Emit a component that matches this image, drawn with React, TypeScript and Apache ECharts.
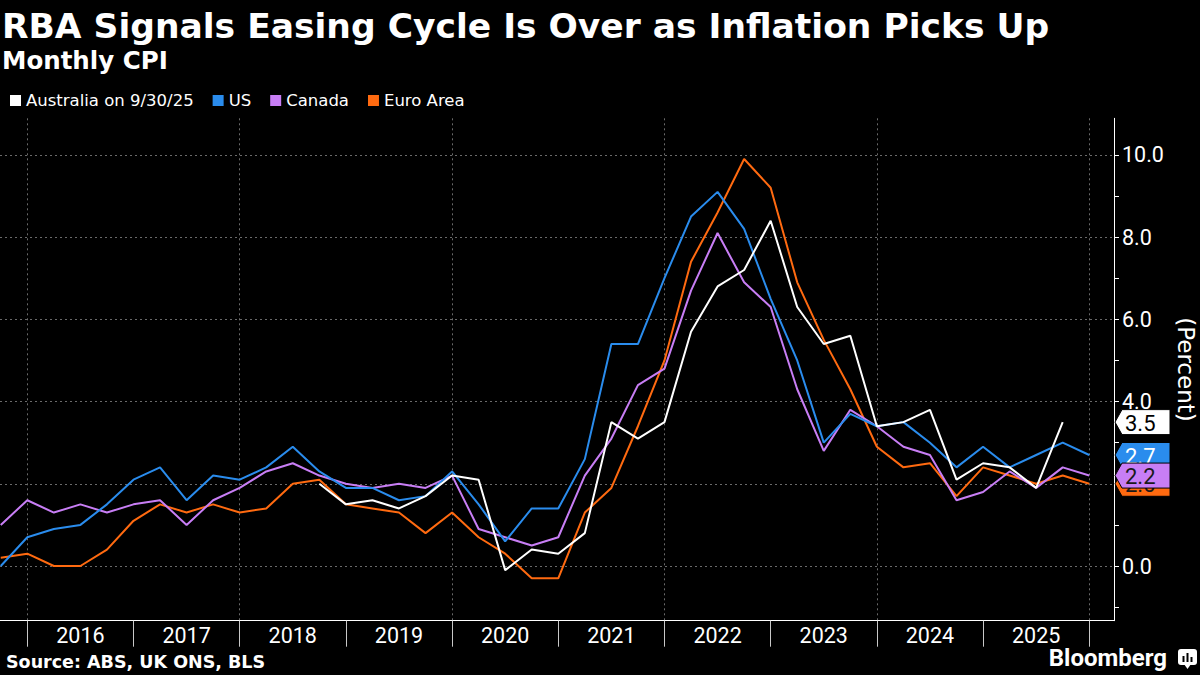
import React, { useEffect, useRef } from "react";
import * as echarts from "echarts";

const TITLE = "RBA Signals Easing Cycle Is Over as Inflation Picks Up";
const SUBTITLE = "Monthly CPI";
const SOURCE = "Source: ABS, UK ONS, BLS";
const BRAND = "Bloomberg";
const Y_NAME = "(Percent)";

const QUARTERS = [
  "2015-09", "2015-12",
  "2016-03", "2016-06", "2016-09", "2016-12",
  "2017-03", "2017-06", "2017-09", "2017-12",
  "2018-03", "2018-06", "2018-09", "2018-12",
  "2019-03", "2019-06", "2019-09", "2019-12",
  "2020-03", "2020-06", "2020-09", "2020-12",
  "2021-03", "2021-06", "2021-09", "2021-12",
  "2022-03", "2022-06", "2022-09", "2022-12",
  "2023-03", "2023-06", "2023-09", "2023-12",
  "2024-03", "2024-06", "2024-09", "2024-12",
  "2025-03", "2025-06", "2025-09", "2025-12",
];

const YEARS = ["2016", "2017", "2018", "2019", "2020", "2021", "2022", "2023", "2024", "2025"];

const AUSTRALIA = [
  null, null,
  null, null, null, null,
  null, null, null, null,
  null, null, 2.0, 1.5,
  1.6, 1.4, 1.7, 2.2,
  2.1, -0.1, 0.4, 0.3,
  0.8, 3.5, 3.1, 3.5,
  5.7, 6.8, 7.2, 8.4,
  6.3, 5.4, 5.6, 3.4,
  3.5, 3.8, 2.1, 2.5,
  2.4, 1.9, 3.5, null,
];

const US = [
  0.0, 0.7,
  0.9, 1.0, 1.5, 2.1,
  2.4, 1.6, 2.2, 2.1,
  2.4, 2.9, 2.3, 1.9,
  1.9, 1.6, 1.7, 2.3,
  1.5, 0.6, 1.4, 1.4,
  2.6, 5.4, 5.4, 7.0,
  8.5, 9.1, 8.2, 6.5,
  5.0, 3.0, 3.7, 3.4,
  3.5, 3.0, 2.4, 2.9,
  2.4, 2.7, 3.0, 2.7,
];

const CANADA = [
  1.0, 1.6,
  1.3, 1.5, 1.3, 1.5,
  1.6, 1.0, 1.6, 1.9,
  2.3, 2.5, 2.2, 2.0,
  1.9, 2.0, 1.9, 2.2,
  0.9, 0.7, 0.5, 0.7,
  2.2, 3.1, 4.4, 4.8,
  6.7, 8.1, 6.9, 6.3,
  4.3, 2.8, 3.8, 3.4,
  2.9, 2.7, 1.6, 1.8,
  2.3, 1.9, 2.4, 2.2,
];

const EURO_AREA = [
  0.2, 0.3,
  0.0, 0.0, 0.4, 1.1,
  1.5, 1.3, 1.5, 1.3,
  1.4, 2.0, 2.1, 1.5,
  1.4, 1.3, 0.8, 1.3,
  0.7, 0.3, -0.3, -0.3,
  1.3, 1.9, 3.4, 5.0,
  7.4, 8.6, 9.9, 9.2,
  6.9, 5.5, 4.3, 2.9,
  2.4, 2.5, 1.7, 2.4,
  2.2, 2.0, 2.2, 2.0,
];

const SERIES_NAMES = ["Australia on 9/30/25", "US", "Canada", "Euro Area"];
const SERIES_VALUES = [AUSTRALIA, US, CANADA, EURO_AREA];
const COLORS = ["#ffffff", "#2a8ced", "#c87ef5", "#ff6a10"];
const TAG_TEXT_COLORS = ["#000000", "#ffffff", "#1a1a1a", "#1a1a1a"];
// drawing order of the end tags (later = on top)
const TAG_ORDER = [0, 1, 3, 2];
// drawing order of the lines (later = on top)
const LINE_ORDER = [3, 2, 1, 0];

const Y_TICKS = [-1, 0, 1, 2, 3, 4, 5, 6, 7, 8, 9, 10];
const Y_LABELS = [0, 2, 4, 6, 8, 10];

// layout
const W = 1200;
const H = 675;
const X_MIN = 2015.743;
const X_MAX = 2026.233;
const Y_MIN = -1.33;
const Y_MAX = 10.89;
const GRID_LEFT = 0;
const GRID_RIGHT = 86;
const GRID_TOP = 118.3;
const GRID_BOTTOM = 54.3;

const toYear = (q: string) => Number(q.slice(0, 4)) + Number(q.slice(5, 7)) / 12;

export default function App() {
  const ref = useRef<HTMLDivElement>(null);

  useEffect(() => {
    if (!ref.current) return;
    const chart = echarts.init(ref.current, undefined, { renderer: "svg" });

    const plotW = W - GRID_LEFT - GRID_RIGHT;
    const firstYear = Number(YEARS[0]);
    const lastYearEnd = Number(YEARS[YEARS.length - 1]) + 1;
    const yearLeft = GRID_LEFT + ((firstYear - X_MIN) / (X_MAX - X_MIN)) * plotW;
    const yearRight = W - (GRID_LEFT + ((lastYearEnd - X_MIN) / (X_MAX - X_MIN)) * plotW);

    const seriesData = SERIES_VALUES.map((vals) =>
      QUARTERS.map((q, i) => [toYear(q), vals[i]]).filter((p) => p[1] !== null)
    );

    const lastValues = seriesData.map((d) => d[d.length - 1][1] as number);

    const tagData = TAG_ORDER.map((idx) => [X_MAX, lastValues[idx], idx]);

    const lineSeries = LINE_ORDER.map((idx) => ({
      name: SERIES_NAMES[idx],
      type: "line",
      xAxisIndex: 0,
      yAxisIndex: 0,
      data: seriesData[idx],
      showSymbol: false,
      symbol: "none",
      color: COLORS[idx],
      lineStyle: { color: COLORS[idx], width: 2 },
      emphasis: { disabled: true },
      silent: true,
      animation: false,
    }));

    const dash = [2, 3];

    const option: any = {
      animation: false,
      backgroundColor: "#000000",
      title: [
        {
          text: TITLE,
          left: 2,
          top: 8,
          padding: 0,
          textStyle: { color: "#ffffff", fontFamily: "DejaVu Sans", fontWeight: "bold", fontSize: 34.5 },
        },
        {
          text: SUBTITLE,
          left: 2,
          top: 48,
          padding: 0,
          textStyle: { color: "#ffffff", fontFamily: "DejaVu Sans", fontWeight: "bold", fontSize: 24.5 },
        },
        {
          text: SOURCE,
          left: 6,
          top: 653,
          padding: 0,
          textStyle: { color: "#ffffff", fontFamily: "DejaVu Sans", fontWeight: "bold", fontSize: 17.5 },
        },
        {
          text: BRAND,
          right: 33,
          top: 646,
          padding: 0,
          textStyle: { color: "#ffffff", fontFamily: "Roboto", fontWeight: "bold", fontSize: 24 },
        },
      ],
      legend: {
        data: SERIES_NAMES,
        left: 5,
        top: 87,
        padding: 5,
        icon: "rect",
        itemWidth: 11,
        itemHeight: 11,
        itemGap: 19,
        selectedMode: false,
        textStyle: { color: "#ffffff", fontFamily: "DejaVu Sans", fontSize: 16.5 },
      },
      grid: [
        { left: GRID_LEFT, right: GRID_RIGHT, top: GRID_TOP, bottom: GRID_BOTTOM, outerBoundsMode: "none", containLabel: false },
        { left: yearLeft, right: yearRight, top: GRID_TOP, bottom: GRID_BOTTOM, outerBoundsMode: "none", containLabel: false },
      ],
      xAxis: [
        {
          type: "value",
          gridIndex: 0,
          min: X_MIN,
          max: X_MAX,
          splitNumber: 5,
          axisLine: { show: true, onZero: false, lineStyle: { color: "#ffffff", width: 1 } },
          axisTick: { show: false },
          axisLabel: { show: false },
          splitLine: {
            show: true,
            showMinLine: false,
            showMaxLine: false,
            lineStyle: { color: "#6a6a6a", width: 1, type: dash },
          },
        },
        {
          type: "category",
          gridIndex: 1,
          data: YEARS,
          boundaryGap: true,
          axisLine: { show: false, onZero: false },
          axisTick: { show: true, interval: 0, length: 26, lineStyle: { color: "#c8c8c8", width: 1 } },
          axisLabel: { show: true, interval: 0, color: "#ffffff", fontFamily: "Roboto", fontSize: 21.5, margin: 4 },
          splitLine: { show: false },
        },
      ],
      yAxis: [
        {
          type: "value",
          gridIndex: 0,
          position: "right",
          min: Y_MIN,
          max: Y_MAX,
          splitNumber: 12,
          axisLine: { show: true, onZero: false, lineStyle: { color: "#ffffff", width: 1 } },
          axisTick: { show: true, inside: false, length: 5, customValues: Y_TICKS, lineStyle: { color: "#ffffff", width: 1 } },
          axisLabel: {
            show: true,
            customValues: Y_LABELS,
            color: "#ffffff",
            fontFamily: "Roboto",
            fontSize: 21.5,
            margin: 8,
            formatter: (v: number) => (Y_LABELS.indexOf(v) >= 0 ? v.toFixed(1) : ""),
          },
          splitLine: { show: false },
          name: Y_NAME,
          nameLocation: "middle",
          nameRotate: -90,
          nameGap: 58,
          nameTextStyle: { color: "#ffffff", fontFamily: "DejaVu Sans", fontSize: 23 },
        },
        {
          type: "value",
          gridIndex: 0,
          position: "right",
          min: Y_MIN,
          max: Y_MAX,
          splitNumber: 6,
          axisLine: { show: false },
          axisTick: { show: false },
          axisLabel: { show: false },
          splitLine: {
            show: true,
            showMinLine: false,
            showMaxLine: false,
            lineStyle: { color: "#6a6a6a", width: 1, type: dash },
          },
        },
        {
          type: "value",
          gridIndex: 1,
          show: false,
          min: 0,
          max: 1,
        },
      ],
      series: [
        ...lineSeries,
        {
          type: "custom",
          name: "tags",
          xAxisIndex: 0,
          yAxisIndex: 0,
          clip: false,
          silent: true,
          z: 10,
          data: tagData,
          encode: { x: 0, y: 1 },
          renderItem: (params: any, api: any) => {
            const idx = api.value(2) as number;
            const val = api.value(1) as number;
            const p = api.coord([api.value(0), val]);
            const x = p[0] + 1;
            const y = p[1];
            const h = 25;
            const w = 55;
            const tip = 7;
            return {
              type: "group",
              children: [
                {
                  type: "polygon",
                  shape: {
                    points: [
                      [x, y],
                      [x + tip, y - h / 2],
                      [x + w, y - h / 2],
                      [x + w, y + h / 2],
                      [x + tip, y + h / 2],
                    ],
                  },
                  style: { fill: COLORS[idx], stroke: "#000000", lineWidth: 1 },
                },
                {
                  type: "text",
                  style: {
                    text: val.toFixed(1),
                    x: x + 10,
                    y: y + 1,
                    align: "left",
                    verticalAlign: "middle",
                    fill: TAG_TEXT_COLORS[idx],
                    fontFamily: "Roboto",
                    fontSize: 22,
                  },
                },
              ],
            };
          },
        },
      ],
      graphic: [
        {
          type: "group",
          left: 1178,
          top: 649,
          children: [
            { type: "rect", shape: { x: 0, y: 0, width: 19, height: 16, r: 3 }, style: { fill: "#ffffff" } },
            { type: "polygon", shape: { points: [[6, 15], [9.5, 20], [13, 15]] }, style: { fill: "#ffffff" } },
            { type: "rect", shape: { x: 4.5, y: 7, width: 2, height: 6 }, style: { fill: "#000000" } },
            { type: "rect", shape: { x: 8.5, y: 4, width: 2, height: 9 }, style: { fill: "#000000" } },
            { type: "rect", shape: { x: 12.5, y: 8, width: 2, height: 5 }, style: { fill: "#000000" } },
          ],
        },
      ],
    };

    chart.setOption(option);
    return () => chart.dispose();
  }, []);

  return (
    <div
      ref={ref}
      style={{ position: "fixed", left: 0, top: 0, width: W, height: H, background: "#000000" }}
    />
  );
}
